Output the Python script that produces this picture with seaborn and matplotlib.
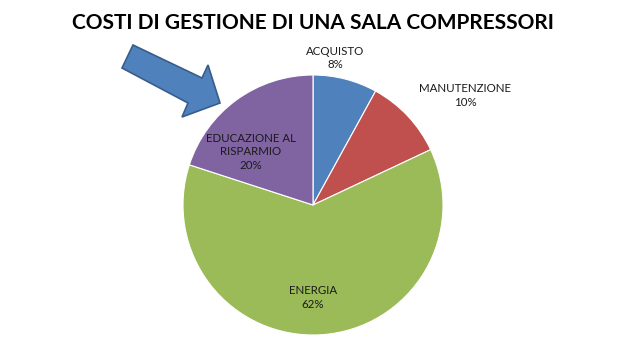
import numpy as np
import seaborn as sns
from matplotlib import pyplot as plt
from matplotlib.patches import Polygon

# Dati del grafico
voci = ["ACQUISTO", "MANUTENZIONE", "ENERGIA", "EDUCAZIONE AL\nRISPARMIO"]
percentuali = [8, 10, 62, 20]
colori = ["#4F81BD", "#C0504D", "#9BBB59", "#8064A2"]
titolo = "COSTI DI GESTIONE DI UNA SALA COMPRESSORI"

sns.set_theme(style="white")
plt.rcParams['font.family'] = ['Lato', 'DejaVu Sans']

fig = plt.figure(figsize=(6.24, 3.59), dpi=100)
fig.patch.set_facecolor("white")

# Assi per la torta: centro (313,205), raggio 130 px
W, H = 624, 359
ax = fig.add_axes([183 / W, (H - 335) / H, 260 / W, 260 / H])
wedges, _ = ax.pie(percentuali, colors=sns.color_palette(colori), startangle=90,
                   counterclock=False, radius=1,
                   wedgeprops=dict(edgecolor="white", linewidth=0.8))
ax.set_xlim(-1, 1)
ax.set_ylim(-1, 1)
ax.set_aspect("equal")
ax.axis("off")

# posizioni delle etichette (relative al centro della torta, in raggi)
pos_etichette = [(0.17, 1.13), (1.17, 0.84), (0.0, -0.71), (-0.48, 0.41)]
for voce, p, (x, y) in zip(voci, percentuali, pos_etichette):
    ax.text(x, y, voce + "\n" + str(p) + "%", ha="center", va="center",
            fontsize=8.3, color="#1a1a1a", linespacing=1.3, clip_on=False)

fig.text(313 / W, 1 - 23 / H, titolo, ha="center", va="center",
         fontsize=15, fontweight="bold", color="black")

# Freccia blu
punti = [(133, 45), (202, 78), (208, 65), (220, 103), (182, 117), (188, 103), (122, 68)]
freccia = Polygon([(x / W, 1 - y / H) for x, y in punti], closed=True,
                  facecolor="#4F81BD", edgecolor="#385D8A", linewidth=1.2,
                  transform=fig.transFigure)
fig.patches.append(freccia)

plt.savefig("out.png", dpi=100)
